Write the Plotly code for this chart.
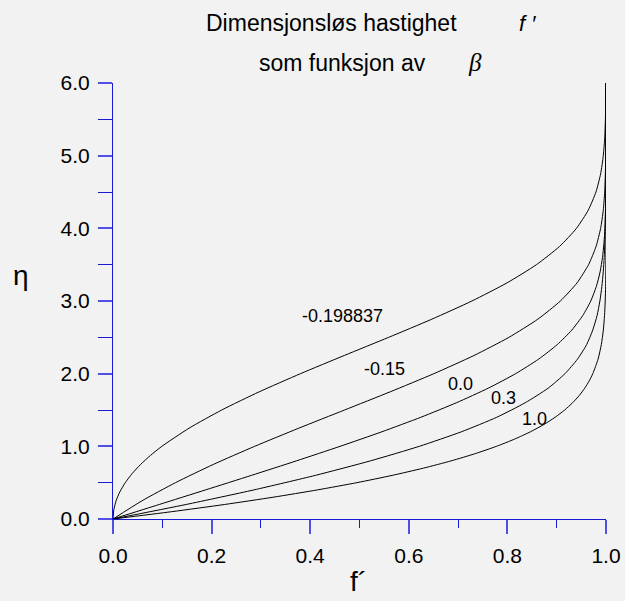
import plotly.graph_objects as go

# Falkner-Skan velocity profiles f'(eta)
eta_sep = [0, 0.125, 0.25, 0.375, 0.5, 0.625, 0.75, 0.875, 1.0, 1.25, 1.5, 1.75, 2.0, 2.25, 2.5,
           2.75, 3.0, 3.25, 3.5, 3.75, 4.0, 4.25, 4.5, 4.75, 5.0, 5.25, 5.5, 5.75, 6.0]
fp_sep = [0, 0.0016, 0.0062, 0.0140, 0.0249, 0.0388, 0.0559, 0.0760, 0.0991, 0.1543, 0.2205,
          0.2965, 0.3803, 0.4690, 0.5592, 0.6468, 0.7280, 0.7994, 0.8589, 0.9056, 0.9401,
          0.9640, 0.9796, 0.9891, 0.9945, 0.9974, 0.9988, 0.9995, 0.9998]

eta_m015 = [0, 0.25, 0.5, 0.75, 1.0, 1.25, 1.5, 1.75, 2.0, 2.25, 2.5, 2.75, 3.0, 3.25, 3.5,
            3.75, 4.0, 4.25, 4.5, 4.75, 5.0, 5.5, 6.0]
fp_m015 = [0, 0.0587, 0.1267, 0.2032, 0.2873, 0.3769, 0.4697, 0.5622, 0.6509, 0.7322, 0.8031,
           0.8617, 0.9075, 0.9413, 0.9646, 0.9798, 0.9891, 0.9945, 0.9973, 0.9987, 0.9994,
           0.9999, 1.0]

eta_0 = [0, 0.2, 0.4, 0.6, 0.8, 1.0, 1.2, 1.4, 1.6, 1.8, 2.0, 2.2, 2.4, 2.6, 2.8, 3.0, 3.2,
         3.4, 3.6, 3.8, 4.0, 4.2, 4.4, 4.6, 4.8, 5.0, 6.0]
fp_0 = [0, 0.0939, 0.1876, 0.2806, 0.3720, 0.4606, 0.5453, 0.6244, 0.6967, 0.7611, 0.8167,
        0.8633, 0.9011, 0.9306, 0.9529, 0.9691, 0.9804, 0.9880, 0.9929, 0.9959, 0.9978,
        0.9988, 0.9994, 0.9997, 0.9999, 1.0, 1.0]

eta_03 = [0, 0.2, 0.4, 0.6, 0.8, 1.0, 1.2, 1.4, 1.6, 1.8, 2.0, 2.2, 2.4, 2.6, 2.8, 3.0, 3.2,
          3.4, 3.6, 3.8, 4.0, 4.4, 5.0, 6.0]
fp_03 = [0, 0.1484, 0.2856, 0.4103, 0.5221, 0.6213, 0.7066, 0.7784, 0.8361, 0.8826, 0.9168,
         0.9422, 0.9607, 0.9731, 0.9819, 0.9876, 0.9916, 0.9944, 0.9964, 0.9976, 0.9984,
         0.9994, 0.9999, 1.0]

eta_1 = [0, 0.1, 0.2, 0.3, 0.4, 0.5, 0.6, 0.7, 0.8, 0.9, 1.0, 1.1, 1.2, 1.3, 1.4, 1.5, 1.6,
         1.7, 1.8, 1.9, 2.0, 2.2, 2.4, 2.6, 2.8, 3.0, 3.2, 3.4, 3.6, 4.0, 5.0, 6.0]
fp_1 = [0, 0.1183, 0.2266, 0.3252, 0.4144, 0.4946, 0.5662, 0.6298, 0.6859, 0.7350, 0.7778,
        0.8148, 0.8467, 0.8739, 0.8968, 0.9162, 0.9323, 0.9458, 0.9568, 0.9659, 0.9732,
        0.9839, 0.9905, 0.9946, 0.9970, 0.9984, 0.9992, 0.9996, 0.9998, 1.0, 1.0, 1.0]

curve_labels = ["-0.198837", "-0.15", "0.0", "0.3", "1.0"]
label_x = [0.4645, 0.551, 0.704, 0.793, 0.854]
label_y = [2.79, 2.06, 1.86, 1.66, 1.375]

x_ticks = [0.0, 0.2, 0.4, 0.6, 0.8, 1.0]
y_ticks = [0.0, 1.0, 2.0, 3.0, 4.0, 5.0, 6.0]

series = [(fp_sep, eta_sep), (fp_m015, eta_m015), (fp_0, eta_0), (fp_03, eta_03), (fp_1, eta_1)]

BG = "#f2f2f2"
AX = "#1a1ad6"
TK = "#5050e4"
FONT = "Liberation Sans, Arial, Helvetica, sans-serif"

fig = go.Figure()
for xs, ys in series:
    fig.add_trace(go.Scatter(x=xs, y=ys, mode="lines",
                             line=dict(color="black", width=1, shape="spline", smoothing=0.6),
                             hoverinfo="skip", showlegend=False, cliponaxis=False))

annotations = []
for t, x, y in zip(curve_labels, label_x, label_y):
    annotations.append(dict(x=x, y=y, xref="x", yref="y", text=t, showarrow=False,
                            font=dict(size=18, color="black", family=FONT)))

def pap(px, py):
    return (px - 113) / 493.0, (519 - py) / 436.3

for text, (px, py), size, fam in [
    ("Dimensjonsløs hastighet", (331, 23), 23, FONT),
    ("<i>f ′</i>", (527, 23), 22, FONT),
    ("som funksjon av", (342, 63), 23, FONT),
    ("<i>β</i>", (475, 62), 25, "Liberation Serif, Times New Roman, serif"),
    ("η", (21, 275), 28, FONT),
    ("f´", (358, 582), 28, FONT),
]:
    xp, yp = pap(px, py)
    annotations.append(dict(x=xp, y=yp, xref="paper", yref="paper", text=text,
                            showarrow=False, xanchor="center", yanchor="middle",
                            font=dict(size=size, color="black", family=fam)))

fig.update_layout(
    width=625, height=601,
    margin=dict(l=113, r=19, t=83, b=82, autoexpand=False),
    paper_bgcolor=BG, plot_bgcolor=BG,
    font=dict(family=FONT, color="black"),
    annotations=annotations,
    showlegend=False,
)
fig.update_xaxes(range=[0, 1], tickvals=x_ticks, ticktext=[f"{v:.1f}" for v in x_ticks],
                 automargin=False,
                 showgrid=False, zeroline=False, showline=True, linecolor=AX, linewidth=1,
                 ticks="outside", ticklen=14, tickcolor=TK, tickwidth=1.5,
                 tickfont=dict(size=21, color="black", family=FONT),
                 minor=dict(ticks="outside", ticklen=8, dtick=0.1, tick0=0, tickcolor=AX,
                            tickwidth=1, showgrid=False),
                 ticklabelstandoff=4,
                 fixedrange=True)
fig.update_yaxes(range=[0, 6], tickvals=y_ticks, ticktext=[f"{v:.1f}" for v in y_ticks],
                 automargin=False,
                 showgrid=False, zeroline=False, showline=True, linecolor=AX, linewidth=1,
                 ticks="outside", ticklen=14, tickcolor=TK, tickwidth=1.5,
                 tickfont=dict(size=21, color="black", family=FONT),
                 minor=dict(ticks="outside", ticklen=14, dtick=0.5, tick0=0, tickcolor=AX,
                            tickwidth=1, showgrid=False),
                 ticklabelstandoff=4,
                 fixedrange=True)

fig.write_html("out.html",
               config={"displayModeBar": False},
               post_script="document.body.style.margin='0';document.body.style.background='#f2f2f2';")
